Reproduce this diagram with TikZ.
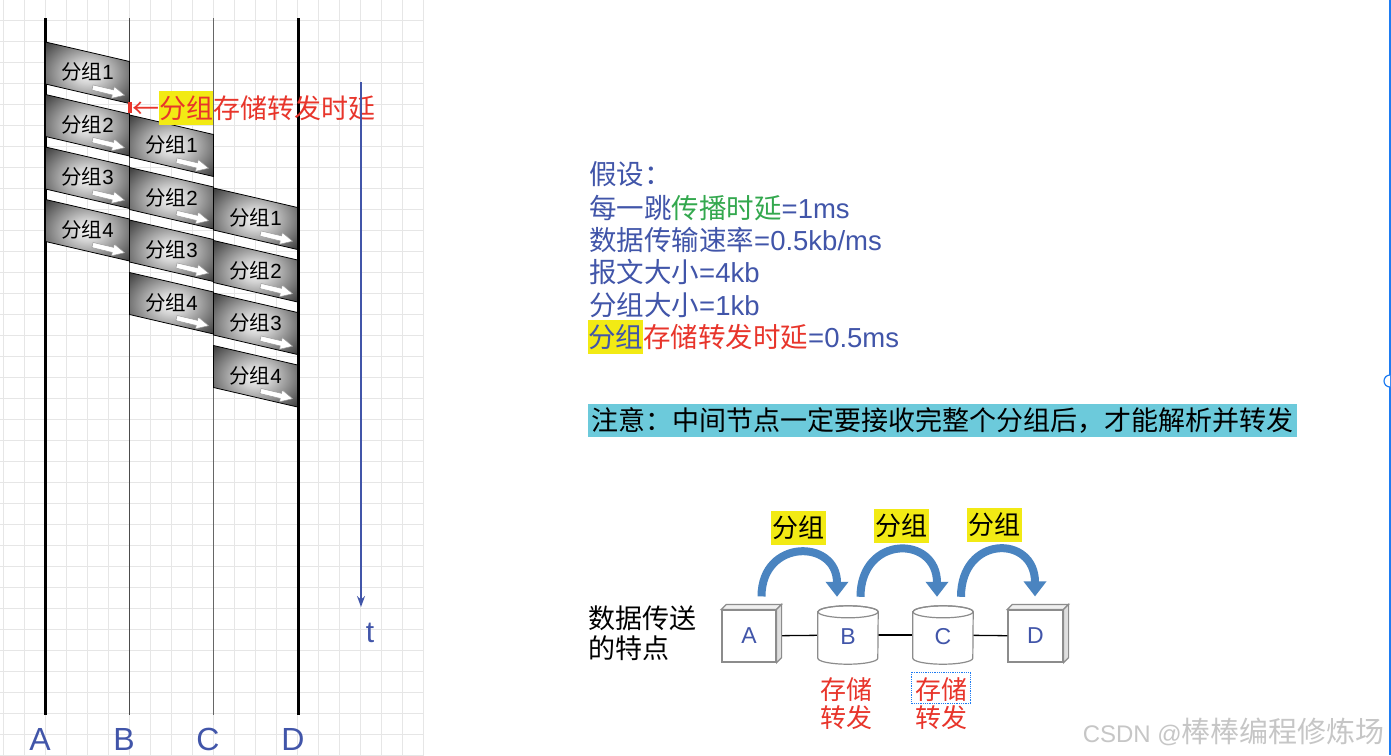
\documentclass[tikz,border=0pt]{standalone}
\usepackage{fontspec}
\setmainfont{Liberation Sans}
\newfontfamily\cjk{Noto Sans CJK SC}
\usetikzlibrary{arrows.meta,calc}
\definecolor{tblue}{HTML}{4155A9}
\definecolor{tgreen}{HTML}{33A84E}
\definecolor{tred}{HTML}{E8352B}
\definecolor{hly}{HTML}{F2EA14}
\definecolor{barc}{HTML}{6CCADB}
\definecolor{gridc}{HTML}{E6E6E6}
\definecolor{arcc}{HTML}{4A84C0}
\definecolor{edgeb}{HTML}{1E7CF2}
\definecolor{boxg}{HTML}{8C8C8C}
\definecolor{pkA}{gray}{0.98}
\definecolor{pkB}{gray}{0.82}
\definecolor{pkC}{gray}{0.26}
\definecolor{pkD}{gray}{0.13}
\pgfdeclareradialshading{pkt}{\pgfpoint{0bp}{0bp}}{color(0bp)=(pkA); color(9bp)=(pkB); color(34bp)=(pkC); color(52bp)=(pkD); color(80bp)=(pkD)}
\newcommand\hl[1]{{\setlength{\fboxsep}{0pt}\colorbox{hly}{\rule[-0.25em]{0pt}{1.25em}#1}}}
\newcommand\fs[1]{\fontsize{#1}{#1}\selectfont}
\newcommand\zh[1]{{\cjk #1}}
\begin{document}
\begin{tikzpicture}[x=1pt,y=-1pt,
  every node/.style={inner sep=0pt},
  pkttext/.style={font=\cjk\fs{20.5}, text=black},
  rtext/.style={anchor=west, text=tblue, font=\fs{27.5}},
  axlab/.style={text=tblue, font=\fs{32}},
  cube/.style={draw=boxg, fill=white, line width=1.2, text=tblue, font=\fs{23}},
  cyl/.style={text=tblue, font=\fs{23}, minimum width=60, minimum height=58},
  hlbox/.style={fill=hly, minimum width=55, minimum height=34, font=\cjk\fs{26}, text=black},
  redlab/.style={align=center, text=tred, font=\cjk\fontsize{26}{28}\selectfont},
  harrow/.style={draw=arcc, line width=8, -{Triangle[length=15pt,width=22pt]}}
]
\useasboundingbox (0,0) rectangle (1391,755);
\fill[white] (0,0) rectangle (1391,755);
% grid
\foreach \i in {0,...,20} \draw[gridc, line width=1] (3+21*\i,0) -- (3+21*\i,755);
\foreach \i in {0,...,35} \draw[gridc, line width=1] (0,20+21*\i) -- (424,20+21*\i);
% node lines
\coordinate (At) at (45.5,18); \coordinate (Ab) at (45.5,715);
\coordinate (Bt) at (129.5,18); \coordinate (Bb) at (129.5,715);
\coordinate (Ct) at (213.5,18); \coordinate (Cb) at (213.5,715);
\coordinate (Dt) at (298,18); \coordinate (Db) at (298,715);
\draw[black, line width=3] (At) -- (Ab);
\draw[black!70, line width=1.3] (Bt) -- (Bb);
\draw[black!60, line width=1.5] (Ct) -- (Cb);
\draw[black, line width=3] (Dt) -- (Db);
\node[axlab] (lA) at (40,739) {A};
\node[axlab] (lB) at (124,739) {B};
\node[axlab] (lC) at (208,739) {C};
\node[axlab] (lD) at (293,739) {D};
% packets
\foreach \h/\xl in {0/45.5,1/129.5,2/213.5} {
  \foreach \k in {1,...,4} {
    \pgfmathsetmacro\T{42+73*\h+52.5*(\k-1)}
    \shade[shading=pkt, draw=black, line width=0.8] (\xl,\T) -- ++(84,19.5) -- ++(0,42) -- ++(-84,-19.5) -- cycle;
    \node[pkttext] (p\h\k) at (\xl+42,\T+30) {分组{\rmfamily\k}};
    \begin{scope}[shift={(\xl+47,\T+45.5)}, rotate=-13.5]
      \filldraw[fill=white, draw=gray!80, line width=0.5] (0,-2.6) -- (21,-2.6) -- (21,-6) -- (33,0) -- (21,6) -- (21,2.6) -- (0,2.6) -- cycle;
    \end{scope}
  }
}
% store-forward marker
\fill[tred] (128,102) rectangle (131.5,113);
\node[anchor=west, text=tred, font=\cjk\fs{27}] (dl) at (132,108) {←\hl{分组}存储转发时延};
% time axis
\coordinate (t0) at (361,82); \coordinate (t1) at (361,607);
\draw[tblue, line width=1.6, -{Stealth[length=11pt,width=8pt]}] (t0) -- (t1);
\node[text=tblue, font=\fs{30}] (tl) at (370,633) {t};
% right text
\node[rtext] (l1) at (589,174) {\zh{假设：}};
\node[rtext] (l2) at (589,208) {\zh{每一跳}\textcolor{tgreen}{\zh{传播时延}}=1ms};
\node[rtext] (l3) at (589,240) {\zh{数据传输速率}=0.5kb/ms};
\node[rtext] (l4) at (589,272) {\zh{报文大小}=4kb};
\node[rtext] (l5) at (589,305) {\zh{分组大小}=1kb};
\node[rtext] (l6) at (588,337) {\hl{\zh{分组}}\textcolor{tred}{\zh{存储转发时延}}=0.5ms};
% note bar
\node[fill=barc, minimum width=709, minimum height=33, anchor=west, font=\cjk\fs{27}, text=black] (note) at (588,420.5) {注意：中间节点一定要接收完整个分组后，才能解析并转发};
% bottom diagram
\node[anchor=west, align=left, font=\cjk\fontsize{27}{30}\selectfont] (feat) at (588,633) {数据传送\\的特点};
\node[cube, minimum width=54, minimum height=52] (nA) at (749,636) {A};
\node[cyl] (nB) at (848,635) {};
\node[cyl] (nC) at (943,635) {};
\node[cube, minimum width=55, minimum height=52] (nD) at (1035.5,636) {D};
\draw[black, line width=1.3] (nA) -- (nB);
\draw[black, line width=1.3] (nB) -- (nC);
\draw[black, line width=1.3] (nC) -- (nD);
\foreach \n in {nA,nD} {
  \filldraw[fill=gray!12, draw=boxg, line width=1.2] (\n.north west) -- ++(5,-5) -- ($(\n.north east)+(5,-5)$) -- (\n.north east) -- cycle;
  \filldraw[fill=gray!25, draw=boxg, line width=1.2] (\n.north east) -- ++(5,-5) -- ($(\n.south east)+(5,-5)$) -- (\n.south east) -- cycle;
}
\foreach \n in {nB,nC} {
  \filldraw[fill=white, draw=boxg, line width=1.2] ($(\n.north west)+(0,6)$) -- ($(\n.south west)+(0,-6)$) arc[start angle=180, end angle=0, x radius=30, y radius=6] -- ($(\n.north east)+(0,6)$) arc[start angle=0, end angle=-180, x radius=30, y radius=6] -- cycle;
  \draw[draw=boxg, line width=1.2] ($(\n.north)+(0,6)$) ellipse [x radius=30, y radius=6];
}
\node[text=tblue, font=\fs{23}] (bB) at (848,637) {B};
\node[text=tblue, font=\fs{23}] (bC) at (943,637) {C};
% curved arrows
\coordinate (a1s) at ($(nA.north)+(12.5,-13)$);
\coordinate (a1e) at ($(nB.north)+(-11,-9)$);
\coordinate (a2s) at ($(nB.north)+(12.5,-9)$);
\coordinate (a2e) at ($(nC.north)+(-6,-9)$);
\coordinate (a3s) at ($(nC.north)+(18,-9)$);
\coordinate (a3e) at ($(nD.north)+(-0.5,-13)$);
\draw[harrow] (a1s) .. controls +(0,-58) and +(0,-58) .. (a1e);
\draw[harrow] (a2s) .. controls +(0,-62) and +(0,-62) .. (a2e);
\draw[harrow] (a3s) .. controls +(0,-62) and +(0,-62) .. (a3e);
\node[hlbox] (g1) at (798.5,527.5) {分组};
\node[hlbox] (g2) at (901,526) {分组};
\node[hlbox] (g3) at (994.5,525) {分组};
\node[redlab] (sB) at (846,704) {存储\\转发};
\node[redlab] (sC) at (941,704) {存储\\转发};
\draw[densely dotted, edgeb, line width=0.8] (911,672) rectangle (970,703);
% watermark
\node[anchor=east, text=gray!45, font=\fs{24}] (wm) at (1385,732) {CSDN @\zh{\fs{29}棒棒编程修炼场}};
% right edge
\draw[edgeb, line width=1.2] (1390,0) -- (1390,755);
\draw[edgeb, line width=1.2, fill=white] (1390,375) arc[start angle=270, end angle=90, radius=6];
\end{tikzpicture}
\end{document}
